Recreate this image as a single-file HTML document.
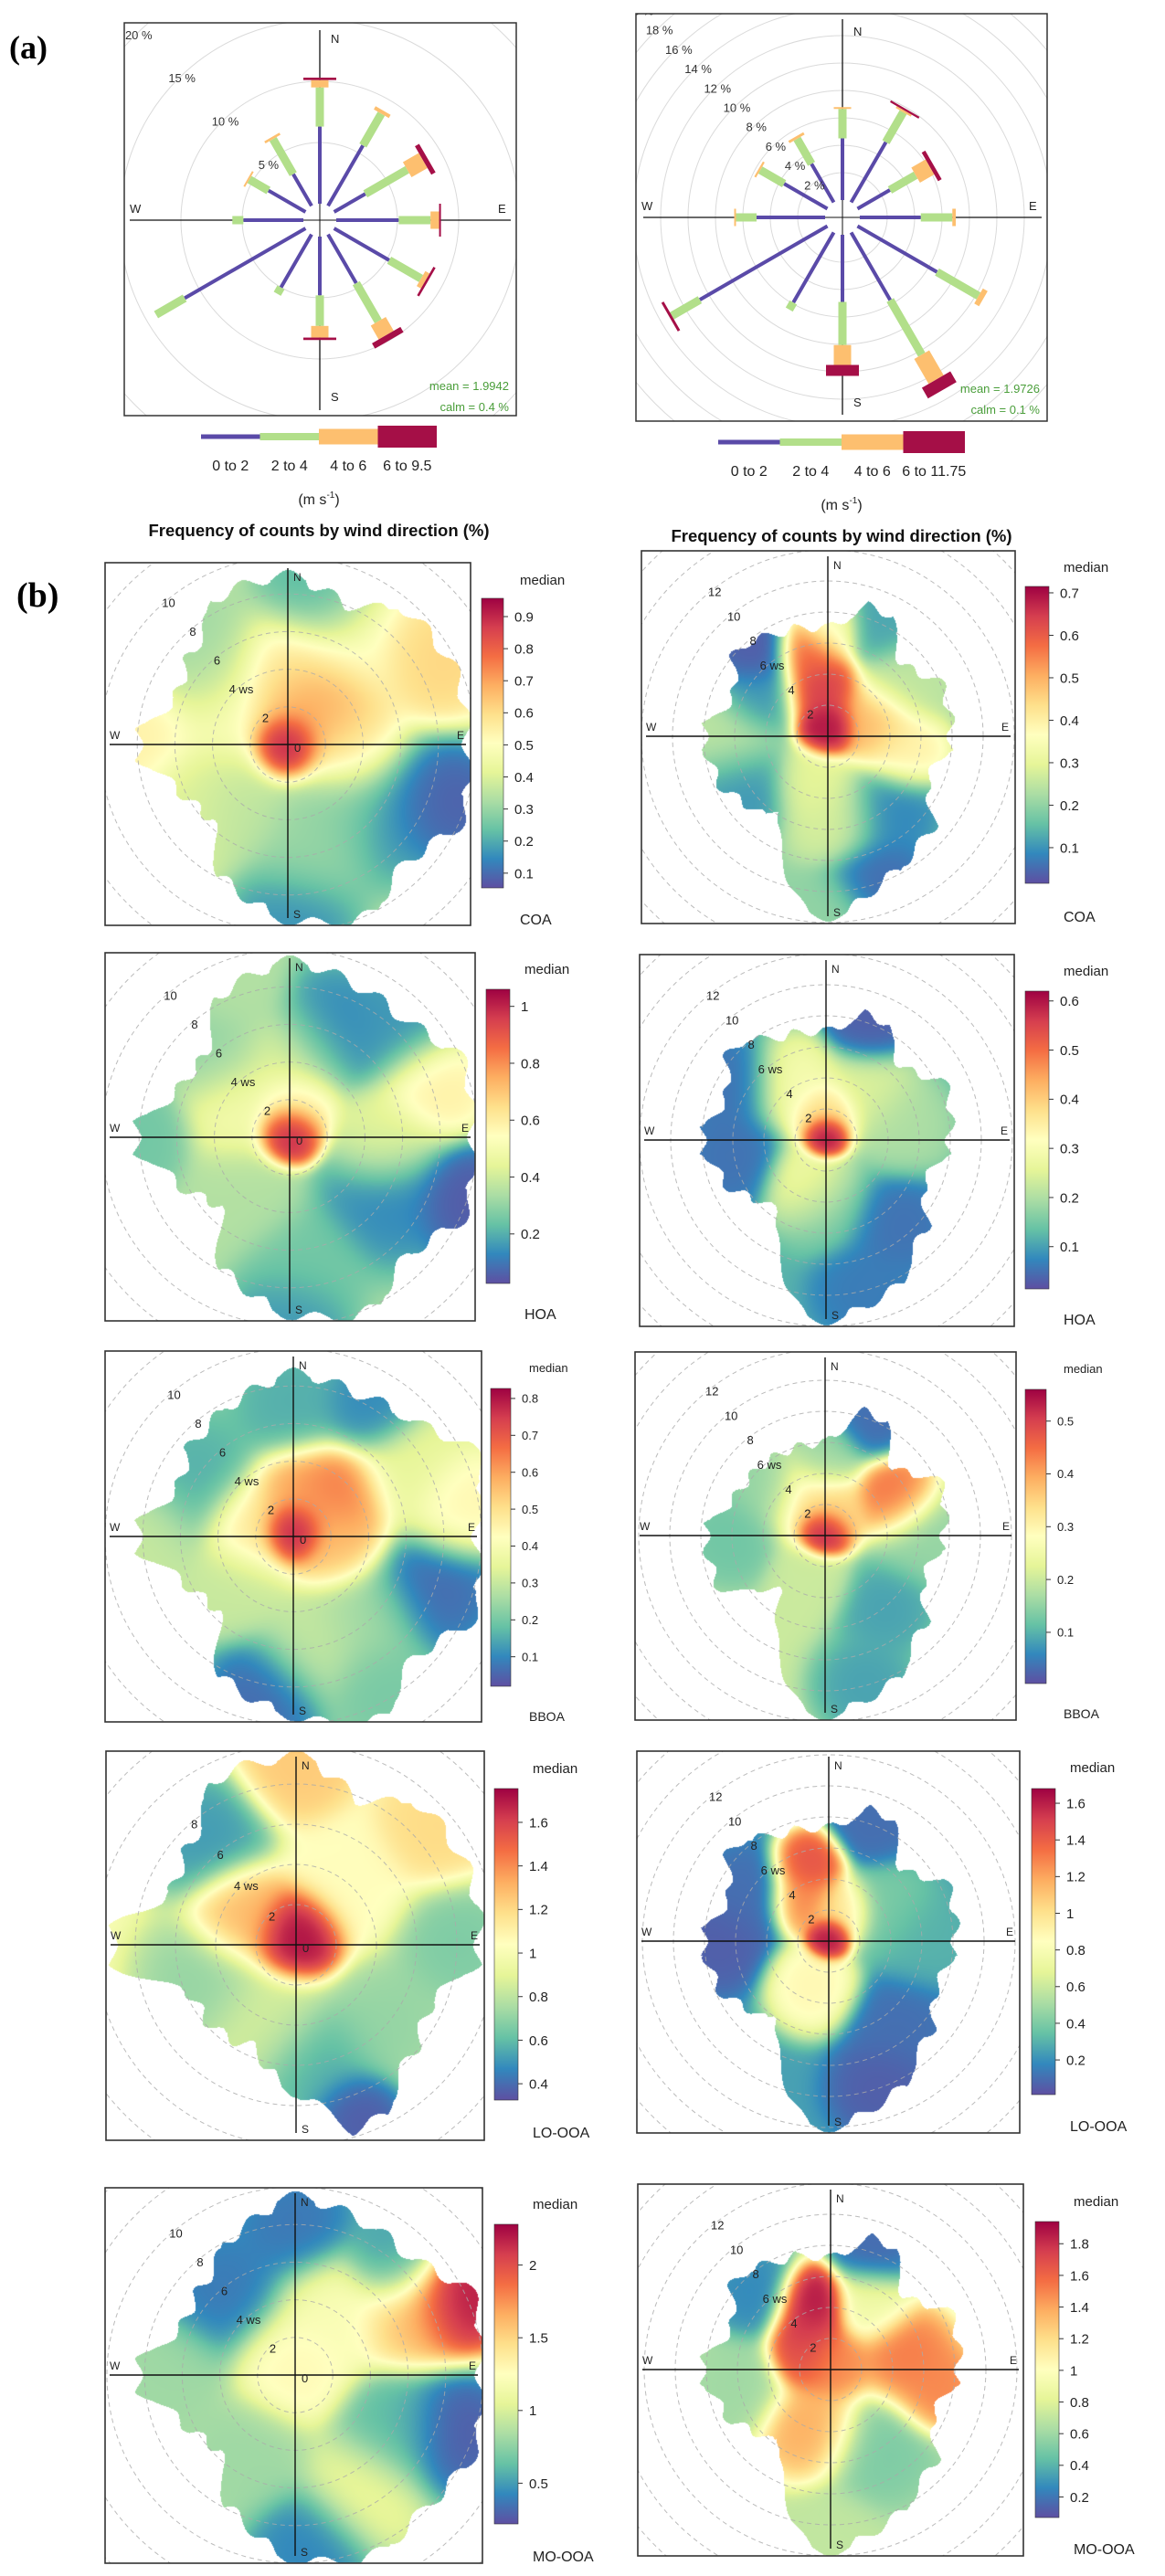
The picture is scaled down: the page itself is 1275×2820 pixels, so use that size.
<!DOCTYPE html>
<html><head><meta charset="utf-8">
<style>
html,body{margin:0;padding:0;background:#fff;}
#root{position:relative;width:1275px;height:2820px;overflow:hidden;background:#fff;font-family:"Liberation Sans",sans-serif;}
canvas{position:absolute;}
#svg{position:absolute;left:0;top:0;}
</style></head>
<body>
<div id="root">
<svg id="svg" width="1275" height="2820" xmlns="http://www.w3.org/2000/svg">
<defs>
<linearGradient id="spec" x1="0" y1="1" x2="0" y2="0">
<stop offset="0" stop-color="#5e4fa2"/><stop offset="0.1" stop-color="#3288bd"/><stop offset="0.2" stop-color="#66c2a5"/><stop offset="0.3" stop-color="#abdda4"/><stop offset="0.4" stop-color="#e6f598"/><stop offset="0.5" stop-color="#ffffbf"/><stop offset="0.6" stop-color="#fee08b"/><stop offset="0.7" stop-color="#fdae61"/><stop offset="0.8" stop-color="#f46d43"/><stop offset="0.9" stop-color="#d53e4f"/><stop offset="1" stop-color="#9e0142"/>
</linearGradient>
</defs>
<text x="10" y="64" font-family="Liberation Serif, serif" font-weight="bold" font-size="36">(a)</text>
<text x="18" y="664" font-family="Liberation Serif, serif" font-weight="bold" font-size="38">(b)</text>
</svg>
</div>
<script>
// ---------- Wind rose data (cumulative % at end of each speed bin) ----------
const roseDirs = [0,30,60,90,120,150,180,210,240,270,300,330];
const roseL_bin1 = [6.3,5.7,2.95,5.1,5.2,4.6,4.8,5.0,11.4,4.9,3.5,3.0];
const roseL_bin2 = [9.5,8.7,6.9,7.7,8.2,8.2,7.3,5.6,14.1,5.8,5.3,6.3];
const roseL_bin3 = [10.1,9.0,8.4,8.4,8.6,9.5,8.25,5.6,14.1,5.8,5.45,6.5];
const roseL_bin4 = [10.3,9.0,8.8,8.55,8.8,10.0,8.45,5.6,14.1,5.8,5.45,6.5];
const roseR_bin1 = [4.5,5.07,2.73,4.45,6.7,5.7,4.9,5.9,10.75,5.0,3.65,3.25];
const roseR_bin2 = [6.65,7.6,4.9,6.75,10.2,10.3,8.05,6.5,13.1,6.5,5.65,5.35];
const roseR_bin3 = [6.75,7.75,6.1,7.0,10.6,12.4,9.5,6.5,13.1,6.6,5.8,5.55];
const roseR_bin4 = [6.75,7.9,6.4,7.0,10.6,13.3,10.3,6.5,13.3,6.6,5.8,5.55];
const roseL_rings = [5,10,15,20,25];
const roseR_rings = [2,4,6,8,10,12,14,16,18,20,22];
const roseL_binLabels = ["0 to 2","2 to 4","4 to 6","6 to 9.5"];
const roseR_binLabels = ["0 to 2","2 to 4","4 to 6","6 to 11.75"];

// ---------- Polar plot data: boundary extent (ws) every 22.5 deg, hotspots [dir, ws, value, spread] ----------
const coaL_ext = [9,8,9.5,9.7,9.5,10,8.7,10,9.3,8,5.6,6.2,8,6.4,7,8.7];
const coaL_spots = [[0,0,0.95,0.8],[20,2,0.75,1.5],[60,2.5,0.7,1.5],[0,4,0.6,1.5],[60,9,0.62,1.5],[30,6,0.5,2],[270,8,0.55,1.5],[300,3,0.5,2],[320,6,0.3,1.8],[10,8,0.2,1.5],[110,9,0.07,1.5],[125,6,0.15,2],[150,4,0.3,1.5],[170,6,0.3,1.5],[178,9,0.15,1.5],[220,4,0.35,1.5],[90,3,0.55,1.5],[240,6,0.4,1.5]];
const coaL_ticks = [0.1,0.2,0.3,0.4,0.5,0.6,0.7,0.8,0.9];
const coaR_ext = [7,8.8,6.5,8,7.9,6.8,8.9,9.8,11.6,4.5,6.6,7.6,8,6.5,8,7.3];
const coaR_spots = [[350,0.5,0.7,0.8],[350,3,0.65,1.2],[348,5.5,0.6,1.0],[75,3,0.5,1.3],[100,5,0.4,1.2],[0,7,0.35,1],[320,7,0.03,1.2],[300,5,0.1,1.2],[270,6,0.25,1.5],[240,6,0.1,1.5],[25,8,0.12,1.2],[55,6,0.25,1.5],[140,6,0.08,1.5],[160,10,0.05,1.5],[180,12,0.2,1.5],[200,3,0.3,1.2],[175,5,0.28,1.5]];
const coaR_ticks = [0.1,0.2,0.3,0.4,0.5,0.6,0.7];
const hoaL_ext = [9.4,8.8,8.7,10,9.7,10.1,8.7,10.1,9.4,8,5.1,6.3,8.2,6.4,6.2,8.5];
const hoaL_spots = [[0,0.3,1.05,0.7],[10,1.5,0.6,1],[300,3,0.5,1.5],[0,4,0.45,1.5],[70,8,0.6,1.3],[90,5,0.45,1.3],[20,6,0.12,1.5],[45,8,0.15,1.5],[120,6,0.12,1.8],[110,10,0.04,1.3],[175,7,0.25,1.5],[180,9.5,0.15,1.3],[270,8,0.25,1.3],[320,6,0.3,1.5],[340,8.5,0.35,1.2],[220,4,0.35,1.5]];
const hoaL_ticks = [0.2,0.4,0.6,0.8,1];
const hoaR_ext = [7,8.5,6.6,8.4,7.9,6.7,8.5,10.5,11.6,5,5.6,7,8,6.9,8.4,7.2];
const hoaR_spots = [[0,0.3,0.62,0.6],[0,1.5,0.4,1],[330,4,0.3,1.5],[40,4,0.25,1.5],[80,5,0.2,1.5],[200,3,0.3,1.3],[180,4,0.15,1.5],[300,7,0.05,1.5],[20,8,0.03,1.2],[140,7,0.05,1.5],[165,10,0.06,1.5],[260,6,0.05,1.5]];
const hoaR_ticks = [0.1,0.2,0.3,0.4,0.5,0.6];
const bboaL_ext = [8.7,8.3,8.7,10.6,9.7,10.4,8.9,10.7,9.5,8.5,5.5,6.2,8.3,6.6,7.3,7.8];
const bboaL_spots = [[0,0.3,0.82,0.7],[45,3,0.68,1.4],[10,2,0.6,1.3],[90,2,0.55,1.3],[280,2,0.5,1.3],[300,6,0.15,1.8],[0,7,0.15,1.5],[30,8,0.1,1.2],[60,7,0.35,1.5],[80,9,0.45,1.3],[110,8,0.05,1.7],[140,6,0.25,1.5],[170,6,0.3,1.5],[190,8.5,0.05,1.5],[150,9,0.2,1.3],[270,8,0.3,1.5],[230,4,0.3,1.3]];
const bboaL_ticks = [0.1,0.2,0.3,0.4,0.5,0.6,0.7,0.8];
const bboaR_ext = [6,8.4,6,8.1,7.6,6.7,8.5,10.4,11.6,4.5,4.7,7.6,7.7,6.3,6.1,6];
const bboaR_spots = [[0,0.3,0.55,0.7],[60,5,0.45,1.2],[340,2.5,0.35,1.5],[20,1.5,0.35,1],[22,8,0.03,1.2],[0,5,0.15,1.2],[90,6,0.15,1.5],[140,6,0.08,1.5],[165,10,0.08,1.5],[270,6,0.12,1.5],[310,5,0.15,1.3],[200,3,0.2,1.2]];
const bboaR_ticks = [0.1,0.2,0.3,0.4,0.5];
const looaL_ext = [9.4,7.8,9.3,9.3,9.1,7.2,7.8,9.6,7.3,5.5,5.8,5.8,9.2,6.7,7.2,9.2];
const looaL_spots = [[0,0.5,1.75,1],[300,3,1.3,1.2],[40,4,1.05,1.5],[0,9,1.25,1.3],[50,9,1.2,1.3],[90,8,0.65,1.5],[320,7,0.5,1.5],[160,9,0.35,1],[170,6,0.55,1.5],[250,5,0.7,1.5],[200,4,0.85,1.5],[130,6,0.7,1.5]];
const looaL_ticks = [0.4,0.6,0.8,1,1.2,1.4,1.6];
const looaR_ext = [7.3,8.9,6.4,8.4,8.1,7.4,8.7,10.6,12,5,6.5,7.7,8.1,6.9,8.6,7.5];
const looaR_spots = [[0,0.3,1.65,0.6],[345,5,1.45,1],[330,3,1.3,1],[20,2,1.0,1],[200,3,0.9,1.3],[60,4,0.4,1.5],[300,6,0.1,1.5],[20,8,0.1,1.2],[270,7,0.05,1.5],[140,7,0.1,1.6],[160,10,0.05,1.5],[90,6,0.3,1.5]];
const looaR_ticks = [0.2,0.4,0.6,0.8,1,1.2,1.4,1.6];
const mooaL_ext = [9.5,8.9,8.7,10.3,9.8,10.3,9.8,10.4,9.8,8,5.6,6.4,8.4,6.5,6.8,8.1];
const mooaL_spots = [[0,0.5,1.3,1.5],[65,9.5,2.25,1.3],[60,7,1.6,1.5],[30,4,1.2,1.5],[110,9,0.25,1.5],[120,6,0.6,1.5],[150,7,1.1,1.5],[175,9,0.4,1.5],[320,6,0.35,1.8],[0,8,0.35,1.5],[40,8,0.5,1.2],[270,7,0.8,1.5],[210,5,0.8,1.5]];
const mooaL_ticks = [0.5,1,1.5,2];
const mooaR_ext = [7.2,8.9,6.5,8.5,8.2,7,8.9,10.3,11.7,5.5,6,7.3,8.3,6.8,8.4,7.7];
const mooaR_spots = [[345,4.5,1.9,1],[330,3,1.8,1],[300,2,1.7,1],[0,0.5,1.5,1.2],[80,5,1.55,1.5],[100,7,1.5,1.2],[200,4,1.4,1.5],[20,8,0.15,1.2],[315,7,0.25,1.4],[30,5,0.9,1.2],[150,6,0.5,1.8],[180,11,0.7,1.5],[260,6,0.6,1.5]];
const mooaR_ticks = [0.2,0.4,0.6,0.8,1,1.2,1.4,1.6,1.8];

const NS='http://www.w3.org/2000/svg';
const svg=document.getElementById('svg');
const root=document.getElementById('root');
function mk(tag,attrs,parent){const e=document.createElementNS(NS,tag);for(const k in attrs)e.setAttribute(k,attrs[k]);(parent||svg).appendChild(e);return e;}
function txt(s,attrs,parent){const e=mk('text',attrs,parent);e.textContent=s;return e;}
const RAD=Math.PI/180;

// ---------- Wind roses ----------
function drawRose(o){
  const g=mk('g',{});
  
  
  const cp=mk('clipPath',{id:o.name+'-clip'},g);
  mk('rect',{x:o.box[0],y:o.box[1],width:o.box[2],height:o.box[3]},cp);
  const inner=mk('g',{'clip-path':'url(#'+o.name+'-clip)'},g);
  const rr=p=>o.r0+p*o.k;
  o.rings.forEach(p=>{const c=mk('circle',{cx:o.c[0],cy:o.c[1],r:rr(p),fill:'none',stroke:'#dadada','stroke-width':1},inner);
    });
  mk('line',{x1:o.c[0],y1:o.ax[0],x2:o.c[0],y2:o.ax[1],stroke:'#111','stroke-width':1.3},inner);
  mk('line',{x1:o.ax[2],y1:o.c[1],x2:o.ax[3],y2:o.c[1],stroke:'#111','stroke-width':1.3},inner);
  mk('circle',{cx:o.c[0],cy:o.c[1],r:o.r0,fill:'#fff'},inner);
  mk('line',{x1:o.c[0],y1:o.c[1]-o.r0,x2:o.c[0],y2:o.c[1]+o.r0,stroke:'#111','stroke-width':1},inner);
  mk('line',{x1:o.c[0]-o.r0,y1:o.c[1],x2:o.c[0]+o.r0,y2:o.c[1],stroke:'#111','stroke-width':1},inner);
  const cols=['#5a4aa8','#b2df8a','#fdbf6f','#a50f47'];
  const widths=[4,9,19,36];
  roseDirs.forEach((d,i)=>{
    let prev=0;
    o.bins.forEach((arr,b)=>{
      let v=arr[i]; if(v<=prev+0.001) {return;}
      let r1=rr(prev), r2=rr(v); if(r2-r1<2) r2=r1+2;
      const w=widths[b];
      const rect=mk('rect',{x:-w/2,y:-r2,width:w,height:r2-r1,fill:cols[b],transform:'translate('+o.c[0]+','+o.c[1]+') rotate('+d+')'},inner);
      
      
      prev=v;
    });
  });
  o.rings.forEach(p=>{const r=rr(p);const t=txt(p+' %',{x:o.c[0]-r*Math.sin(45*RAD)+4,y:o.c[1]-r*Math.cos(45*RAD)+4,'font-size':o.fs,fill:'#333','text-anchor':'middle'},inner);
    });
  const lab=[['N',o.c[0]+12,o.box[1]+o.nOff],['S',o.c[0]+12,o.box[1]+o.box[3]-16],['W',o.box[0]+6,o.c[1]-8],['E',o.box[0]+o.box[2]-20,o.c[1]-8]];
  lab.forEach(l=>{const t=txt(l[0],{x:l[1],y:l[2],'font-size':13,fill:'#222'},inner);});
  const m1=txt(o.mean,{x:o.box[0]+o.box[2]-8,y:o.my,'font-size':13,fill:'#4a9e3a','text-anchor':'end'},inner);
  
  const m2=txt(o.calm,{x:o.box[0]+o.box[2]-8,y:o.my+23,'font-size':13,fill:'#4a9e3a','text-anchor':'end'},inner);
  
  const bx=mk('rect',{x:o.box[0],y:o.box[1],width:o.box[2],height:o.box[3],fill:'none',stroke:'#333','stroke-width':1.5},g);
  
  const lg=mk('g',{},g);
  
  
  const seg=(o.leg[1]-o.leg[0])/4, hs=[5,8,17,24];
  for(let b=0;b<4;b++){
    const r=mk('rect',{x:o.leg[0]+b*seg,y:o.leg[2]-hs[b]/2,width:seg,height:hs[b],fill:cols[b]},lg);
    
    const t=txt(o.binLabels[b],{x:o.leg[0]+b*seg+seg/2,y:o.leg[2]+37,'font-size':16,fill:'#222','text-anchor':'middle'},lg);
    
  }
  const cx=(o.leg[0]+o.leg[1])/2;
  const u=mk('text',{x:cx,y:o.leg[2]+74,'font-size':16,fill:'#222','text-anchor':'middle'},lg);
  u.innerHTML='(m s<tspan font-size="10" dy="-7">-1</tspan><tspan dy="7">)</tspan>';
  
  const ti=txt('Frequency of counts by wind direction (%)',{x:cx,y:o.leg[2]+109,'font-size':18.5,'font-weight':'bold',fill:'#111','text-anchor':'middle'},g);
  
}
drawRose({name:'wind-rose-left',box:[136,25,429,430],c:[350,241],r0:18,k:13.4,rings:roseL_rings,ax:[33,449,142,559],
  bins:[roseL_bin1,roseL_bin2,roseL_bin3,roseL_bin4],binLabels:roseL_binLabels,mean:'mean  =  1.9942',calm:'calm =  0.4 %',my:427,
  leg:[220,478,478],fs:13,nOff:22});
drawRose({name:'wind-rose-right',box:[696,15,450,446],c:[922,238],r0:19,k:15,rings:roseR_rings,ax:[21,454,704,1140],
  bins:[roseR_bin1,roseR_bin2,roseR_bin3,roseR_bin4],binLabels:roseR_binLabels,mean:'mean  =  1.9726',calm:'calm =  0.1 %',my:430,
  leg:[786,1056,484],fs:13,nOff:24});

// ---------- Polar plots ----------
const specStops=[[94,79,162],[50,136,189],[102,194,165],[171,221,164],[230,245,152],[255,255,191],[254,224,139],[253,174,97],[244,109,67],[213,62,79],[158,1,66]];
function cmap(t){t=Math.max(0,Math.min(1,t))*10;const i=Math.min(9,Math.floor(t));const f=t-i;const a=specStops[i],b=specStops[i+1];
  return [a[0]+(b[0]-a[0])*f,a[1]+(b[1]-a[1])*f,a[2]+(b[2]-a[2])*f];}
function extAt(ext,th){
  const s=th/22.5;const i=Math.floor(s)%16;const f=s-Math.floor(s);
  let m=ext[i]*(1-f)+ext[(i+1)%16]*f;
  for(let j=0;j<16;j++){let d=Math.abs(th-j*22.5);d=Math.min(d,360-d);const v=ext[j]-0.22*Math.max(0,d-6);if(v>m)m=v;}
  return m;
}

const panels=[
 {name:'coa-left',label:'COA',box:[115,616,400,397],c:[315,815],ppw:20.6,ext:coaL_ext,spots:coaL_spots,base:0.4,vmin:0.054,vmax:0.957,cb:[527,655,24,317],ticks:coaL_ticks,medY:640,labY:1012,left:true},
 {name:'coa-right',label:'COA',box:[702,603,409,408],c:[906,806],ppw:17,ext:coaR_ext,spots:coaR_spots,base:0.2,vmin:0.016,vmax:0.715,cb:[1122,642,26,325],ticks:coaR_ticks,medY:626,labY:1009,left:false},
 {name:'hoa-left',label:'HOA',box:[115,1043,405,403],c:[317,1245],ppw:20.6,ext:hoaL_ext,spots:hoaL_spots,base:0.35,vmin:0.026,vmax:1.06,cb:[532,1083,26,322],ticks:hoaL_ticks,medY:1066,labY:1444,left:true},
 {name:'hoa-right',label:'HOA',box:[700,1045,410,407],c:[904,1248],ppw:17,ext:hoaR_ext,spots:hoaR_spots,base:0.12,vmin:0.014,vmax:0.62,cb:[1122,1085,26,326],ticks:hoaR_ticks,medY:1068,labY:1450,left:false},
 {name:'bboa-left',label:'BBOA',box:[115,1479,412,406],c:[321,1682],ppw:20.6,ext:bboaL_ext,spots:bboaL_spots,base:0.3,vmin:0.02,vmax:0.827,cb:[537,1520,22,326],ticks:bboaL_ticks,medY:1502,labY:1884,left:true,fs:13},
 {name:'bboa-right',label:'BBOA',box:[695,1480,417,403],c:[903,1681],ppw:17,ext:bboaR_ext,spots:bboaR_spots,base:0.2,vmin:0.003,vmax:0.56,cb:[1122,1521,23,322],ticks:bboaR_ticks,medY:1503,labY:1881,left:false,fs:13},
 {name:'lo-ooa-left',label:'LO-OOA',box:[116,1917,414,426],c:[324,2129],ppw:22,ext:looaL_ext,spots:looaL_spots,base:1.0,vmin:0.325,vmax:1.755,cb:[541,1958,26,341],ticks:looaL_ticks,medY:1941,labY:2340,left:true,noTen:true},
 {name:'lo-ooa-right',label:'LO-OOA',box:[697,1917,419,418],c:[907,2125],ppw:17,ext:looaR_ext,spots:looaR_spots,base:0.25,vmin:0.011,vmax:1.68,cb:[1129,1958,26,335],ticks:looaR_ticks,medY:1940,labY:2333,left:false},
 {name:'mo-ooa-left',label:'MO-OOA',box:[115,2395,413,411],c:[323,2600],ppw:20.6,ext:mooaL_ext,spots:mooaL_spots,base:0.9,vmin:0.22,vmax:2.28,cb:[541,2435,26,328],ticks:mooaL_ticks,medY:2418,labY:2804,left:true},
 {name:'mo-ooa-right',label:'MO-OOA',box:[698,2391,422,407],c:[909,2594],ppw:17,ext:mooaR_ext,spots:mooaR_spots,base:0.7,vmin:0.07,vmax:1.94,cb:[1133,2432,26,324],ticks:mooaR_ticks,medY:2415,labY:2796,left:false}
];

function drawPanel(p){
  const [bx,by,bw,bh]=p.box;
  const cv=document.createElement('canvas');
  cv.width=bw;cv.height=bh;cv.style.left=bx+'px';cv.style.top=by+'px';
  
  
  root.insertBefore(cv,svg);
  const ctx=cv.getContext('2d');const img=ctx.createImageData(bw,bh);const D=img.data;
  const sp=p.spots.map(s=>[Math.sin(s[0]*RAD)*s[1],-Math.cos(s[0]*RAD)*s[1],s[2],1/(2*s[3]*s[3]),1/(s[3]*s[3])]);
  for(let y=0;y<bh;y++){for(let x=0;x<bw;x++){
    const dx=(x+bx-p.c[0])/p.ppw, dy=(y+by-p.c[1])/p.ppw;
    const r=Math.sqrt(dx*dx+dy*dy);
    let th=Math.atan2(dx,-dy)/RAD; if(th<0)th+=360;
    const e=extAt(p.ext,th)+0.3*Math.cos(th*RAD*22);
    if(r>e)continue;
    let num=0.02*p.base,den=0.02;
    for(const s of sp){const ddx=dx-s[0],ddy=dy-s[1];const w=Math.exp(-(ddx*ddx+ddy*ddy)*s[3])*s[4];num+=w*s[2];den+=w;}
    const v=num/den;const c=cmap((v-p.vmin)/(p.vmax-p.vmin));
    const k=(y*bw+x)*4;D[k]=c[0];D[k+1]=c[1];D[k+2]=c[2];D[k+3]=255;
  }}
  ctx.putImageData(img,0,0);
  const g=mk('g',{});
  
  
  const cp=mk('clipPath',{id:p.name+'-clip'},g);
  mk('rect',{x:bx,y:by,width:bw,height:bh},cp);
  const inner=mk('g',{'clip-path':'url(#'+p.name+'-clip)'},g);
  for(let w=2;w<=16;w+=2){const c=mk('circle',{cx:p.c[0],cy:p.c[1],r:w*p.ppw,fill:'none',stroke:'#aaa','stroke-width':1,'stroke-dasharray':'5 4',opacity:0.8},inner);
    }
  mk('line',{x1:p.c[0],y1:by+6,x2:p.c[0],y2:by+bh-8,stroke:'#111','stroke-width':1.4},inner);
  mk('line',{x1:bx+5,y1:p.c[1],x2:bx+bw-5,y2:p.c[1],stroke:'#111','stroke-width':1.4},inner);
  const labs=p.left?(p.noTen?[[2,'2'],[4,'4 ws'],[6,'6'],[8,'8']]:[[2,'2'],[4,'4 ws'],[6,'6'],[8,'8'],[10,'10']]):[[2,'2'],[4,'4'],[6,'6 ws'],[8,'8'],[10,'10'],[12,'12']];
  labs.forEach(l=>{const a=(p.left?40:38)*RAD;const r=l[0]*p.ppw-3;
    const t=txt(l[1],{x:p.c[0]-r*Math.sin(a),y:p.c[1]-r*Math.cos(a)+5,'font-size':13,fill:'#222','text-anchor':'middle'},inner);
    });
  if(p.left){const t=txt('0',{x:p.c[0]+7,y:p.c[1]+8,'font-size':13,fill:'#222'},inner);}
  [['N',p.c[0]+6,by+20],['S',p.c[0]+6,by+bh-8],['W',bx+5,p.c[1]-6],['E',bx+bw-15,p.c[1]-6]].forEach(l=>{
    const t=txt(l[0],{x:l[1],y:l[2],'font-size':12,fill:'#222'},inner);});
  const fr=mk('rect',{x:bx,y:by,width:bw,height:bh,fill:'none',stroke:'#333','stroke-width':1.6},g);
  
  const [cx,cy,cw,ch]=p.cb;
  const cbg=mk('g',{},g);
  
  
  mk('rect',{x:cx,y:cy,width:cw,height:ch,fill:'url(#spec)',stroke:'#333','stroke-width':0.6},cbg);
  const fs=p.fs||15;
  p.ticks.forEach(t=>{const yy=cy+ch-(t-p.vmin)/(p.vmax-p.vmin)*ch;
    mk('line',{x1:cx+cw,y1:yy,x2:cx+cw+5,y2:yy,stroke:'#333','stroke-width':1},cbg);
    const tt=txt(String(t),{x:cx+cw+12,y:yy+fs*0.36,'font-size':fs,fill:'#222'},cbg);
    });
  const md=txt('median',{x:cx+42,y:p.medY,'font-size':p.fs?13:15,fill:'#222'},cbg);
  
  const lb=txt(p.label,{x:cx+42,y:p.labY,'font-size':p.fs?14:16,fill:'#222'},cbg);
  
}
panels.forEach(drawPanel);
</script>
</body></html>
